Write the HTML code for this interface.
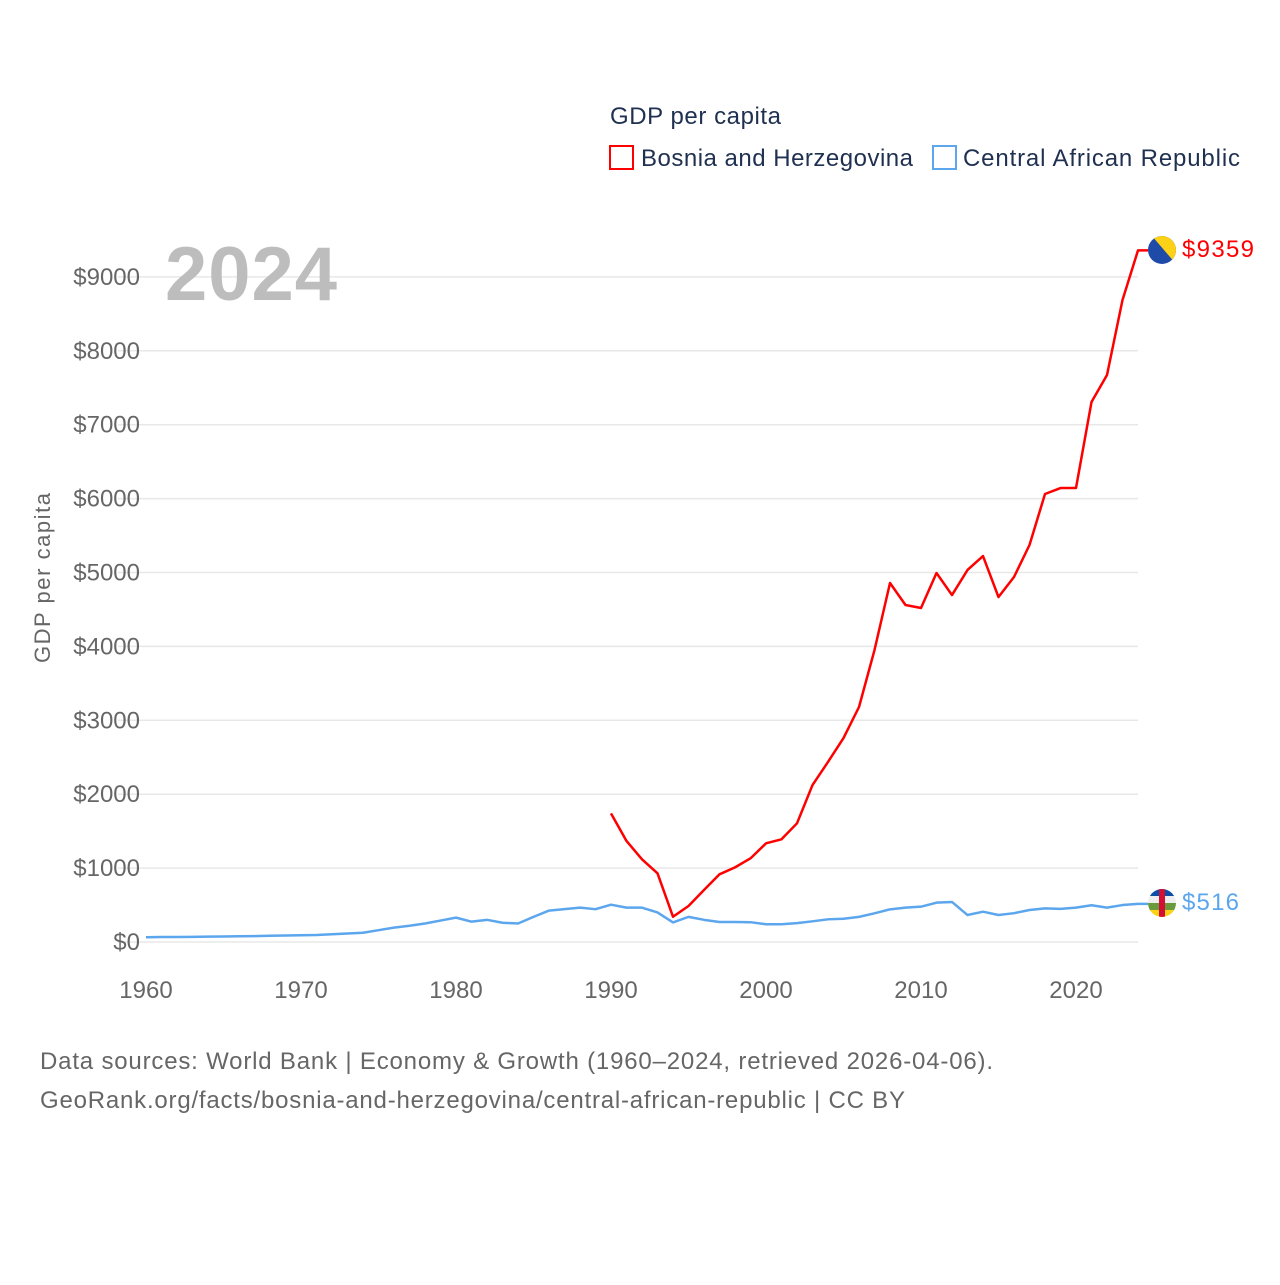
<!DOCTYPE html>
<html><head><meta charset="utf-8"><style>
body{margin:0;background:#fff;font-family:"Liberation Sans",sans-serif}
svg text{font-family:"Liberation Sans",sans-serif}
</style></head><body>
<svg id="chart" width="1280" height="1280" xmlns="http://www.w3.org/2000/svg">
<rect width="1280" height="1280" fill="#fff"/>
<g id="grid"></g>
<g id="yticks"></g>
<g id="xticks"></g>
<text x="50" y="578" transform="rotate(-90 50 578)" text-anchor="middle" font-size="22" fill="#666" textLength="170">GDP per capita</text>
<text x="165" y="300" font-size="76" font-weight="bold" fill="#bdbdbd" textLength="172">2024</text>
<text x="610" y="124" font-size="24" fill="#1f3050" textLength="171">GDP per capita</text>
<g><rect x="610" y="146" width="23" height="23" fill="none" stroke="#f00" stroke-width="2"/><text x="641" y="166" font-size="24" fill="#1f3050" textLength="272">Bosnia and Herzegovina</text></g>
<g><rect x="933" y="146" width="23" height="23" fill="none" stroke="#5ca6ee" stroke-width="2"/><text x="963" y="166" font-size="24" fill="#1f3050" textLength="277">Central African Republic</text></g>
<g id="lines"></g>
<g><clipPath id="cb"><circle cx="1162" cy="250" r="14"/></clipPath><g clip-path="url(#cb)"><rect x="1148" y="236" width="28" height="28" fill="#1e4aa8"/><polygon points="1152,236 1176,236 1176,264" fill="#fcd116"/></g></g>
<g><clipPath id="cc"><circle cx="1162" cy="903" r="14"/></clipPath><g clip-path="url(#cc)"><rect x="1148" y="889" width="28" height="7" fill="#0a4ea8"/><rect x="1148" y="896" width="28" height="7" fill="#eee"/><rect x="1148" y="903" width="28" height="7" fill="#6a9a3a"/><rect x="1148" y="910" width="28" height="7" fill="#fcd116"/><rect x="1159" y="889" width="6" height="28" fill="#d21034"/></g></g>
<text x="1182" y="257" font-size="24" fill="#f00" textLength="72">$9359</text>
<text x="1182" y="910" font-size="24" fill="#5ca6ee" textLength="57">$516</text>
<text x="40" y="1069" font-size="24" fill="#666" textLength="953">Data sources: World Bank | Economy &amp; Growth (1960–2024, retrieved 2026-04-06).</text>
<text x="40" y="1108" font-size="24" fill="#666" textLength="865">GeoRank.org/facts/bosnia-and-herzegovina/central-african-republic | CC BY</text>
</svg>
<script>
const yTickValues=[0,1000,2000,3000,4000,5000,6000,7000,8000,9000];
const xTickValues=[1960,1970,1980,1990,2000,2010,2020];
const carYears=[];for(let y=1960;y<=2024;y++)carYears.push(y);
const carValues=[65,67,68,70,72,75,78,80,84,88,92,95,105,115,125,160,195,220,250,290,330,275,300,260,250,340,425,445,465,444,505,465,465,400,265,340,300,270,270,268,240,240,255,280,307,315,340,388,442,465,478,532,542,365,410,365,390,433,455,448,465,497,465,500,516];
const bihYears=[];for(let y=1990;y<=2024;y++)bihYears.push(y);
const bihValues=[1741,1367,1119,930,342,487,704,916,1010,1132,1335,1390,1606,2124,2436,2760,3180,3951,4858,4560,4520,4993,4695,5034,5223,4668,4939,5372,6062,6143,6143,7307,7672,8687,9359];
const NS='http://www.w3.org/2000/svg';
const xs=y=>146+(y-1960)*15.5;
const ys=v=>942-v*0.0739;
function mk(tag,attrs,parent){const e=document.createElementNS(NS,tag);for(const k in attrs)e.setAttribute(k,attrs[k]);document.getElementById(parent).appendChild(e);return e;}
yTickValues.forEach(v=>{
 const l=mk('line',{x1:118,x2:1138,y1:ys(v),y2:ys(v),stroke:'#e8e8e8','stroke-width':1.5},'grid');
 
 
 const t=mk('text',{x:140,y:ys(v)+8,'text-anchor':'end','font-size':24,fill:'#666'},'yticks');
 t.textContent='$'+v;
 
 
});
xTickValues.forEach(v=>{
 const t=mk('text',{x:xs(v),y:998,'text-anchor':'middle','font-size':24,fill:'#666'},'xticks');
 t.textContent=v;
 
 
});
const p1=mk('polyline',{points:carYears.map((y,i)=>xs(y)+','+ys(carValues[i])).join(' ')+' '+(xs(2024)+10)+','+ys(516),fill:'none',stroke:'#5ca6ee','stroke-width':2.5,'stroke-linejoin':'round'},'lines');


const p2=mk('polyline',{points:bihYears.map((y,i)=>xs(y)+','+ys(bihValues[i])).join(' ')+' '+(xs(2024)+10)+','+ys(9359),fill:'none',stroke:'#f00','stroke-width':2.5,'stroke-linejoin':'round'},'lines');


</script>
</body></html>
